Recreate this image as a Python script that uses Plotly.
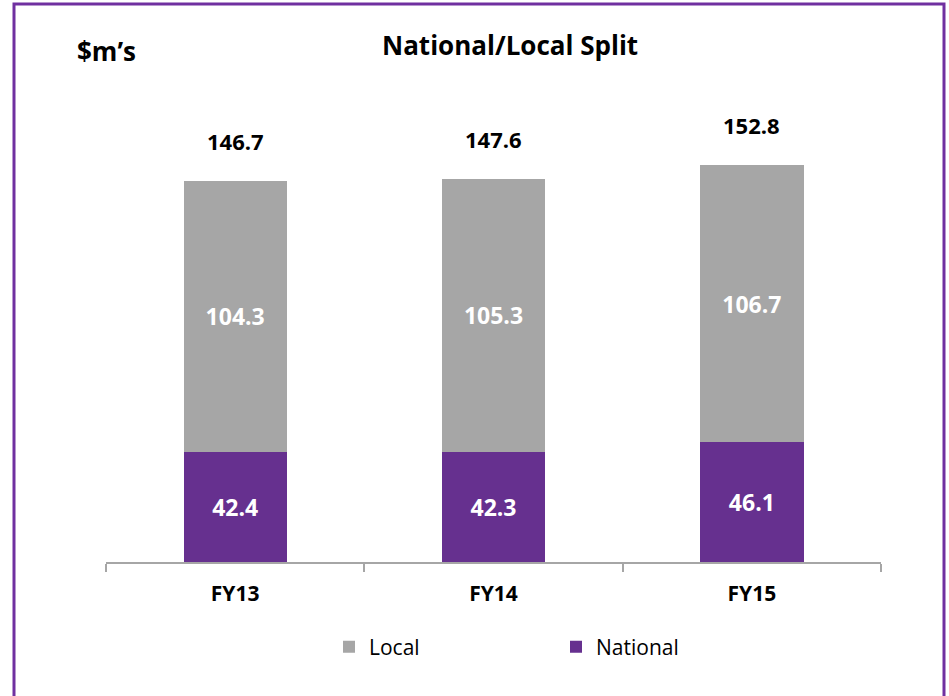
import plotly.graph_objects as go

categories = ["FY13", "FY14", "FY15"]
national = [42.4, 42.3, 46.1]
local = [104.3, 105.3, 106.7]
totals = [146.7, 147.6, 152.8]

FONT = "Open Sans"
GRAY = "#A6A6A6"
PURPLE = "#66308F"

W, H = 949, 696
L, R, T, B = 106, 68, 100, 134
pw, ph = W - L - R, H - T - B

def px(x):
    return (x - L) / pw

def py(y):
    return (H - B - y) / ph

fig = go.Figure()
fig.add_trace(go.Bar(
    x=categories, y=national, name="National",
    marker=dict(color=PURPLE, line=dict(width=0)),
    text=[f"{v:.1f}" for v in national], textposition="inside",
    insidetextanchor="middle",
    textfont=dict(family=FONT, size=23, color="white", weight="bold"),
))
fig.add_trace(go.Bar(
    x=categories, y=local, name="Local",
    marker=dict(color=GRAY, line=dict(width=0)),
    text=[f"{v:.1f}" for v in local], textposition="inside",
    insidetextanchor="middle",
    textfont=dict(family=FONT, size=23, color="white", weight="bold"),
))

for c, t in zip(categories, totals):
    fig.add_annotation(x=c, y=t, yref="y", xref="x", text=f"<b>{t:.1f}</b>",
                       showarrow=False, yanchor="middle", yshift=40,
                       font=dict(family=FONT, size=22, color="black"))

fig.add_annotation(xref="paper", yref="paper", x=px(510), y=py(45),
                   text="<b>National/Local Split</b>", showarrow=False,
                   xanchor="center", yanchor="middle",
                   font=dict(family=FONT, size=26, color="black"))
fig.add_annotation(xref="paper", yref="paper", x=px(75), y=py(51),
                   text="<b>$m’s</b>", showarrow=False,
                   xanchor="left", yanchor="middle",
                   font=dict(family=FONT, size=26, color="black"))

fig.add_shape(type="rect", xref="paper", yref="paper",
              x0=px(14), x1=px(944), y0=py(720), y1=py(4),
              line=dict(color="#7030A0", width=3), layer="above")

fig.update_layout(
    width=W, height=H,
    margin=dict(l=L, r=R, t=T, b=B),
    barmode="stack", bargap=0.6,
    paper_bgcolor="white", plot_bgcolor="white",
    showlegend=True,
    legend=dict(orientation="h", x=px(329), y=py(647), xanchor="left",
                yanchor="middle", traceorder="reversed",
                font=dict(family=FONT, size=21, color="black"),
                itemwidth=30, entrywidth=182),
    xaxis=dict(range=[-0.5, 2.5], showline=True, linecolor="#A6A6A6", linewidth=2,
               ticks="outside", tickson="boundaries", ticklen=8, tickcolor="#A6A6A6",
               tickwidth=2, ticklabelstandoff=12,
               tickfont=dict(family=FONT, size=21, color="black", weight="bold"),
               showgrid=False),
    yaxis=dict(range=[0, 177.9], visible=False, showgrid=False),
)

fig.write_html("out.html", config={"displayModeBar": False},
               post_script="document.body.style.margin='0px';")
